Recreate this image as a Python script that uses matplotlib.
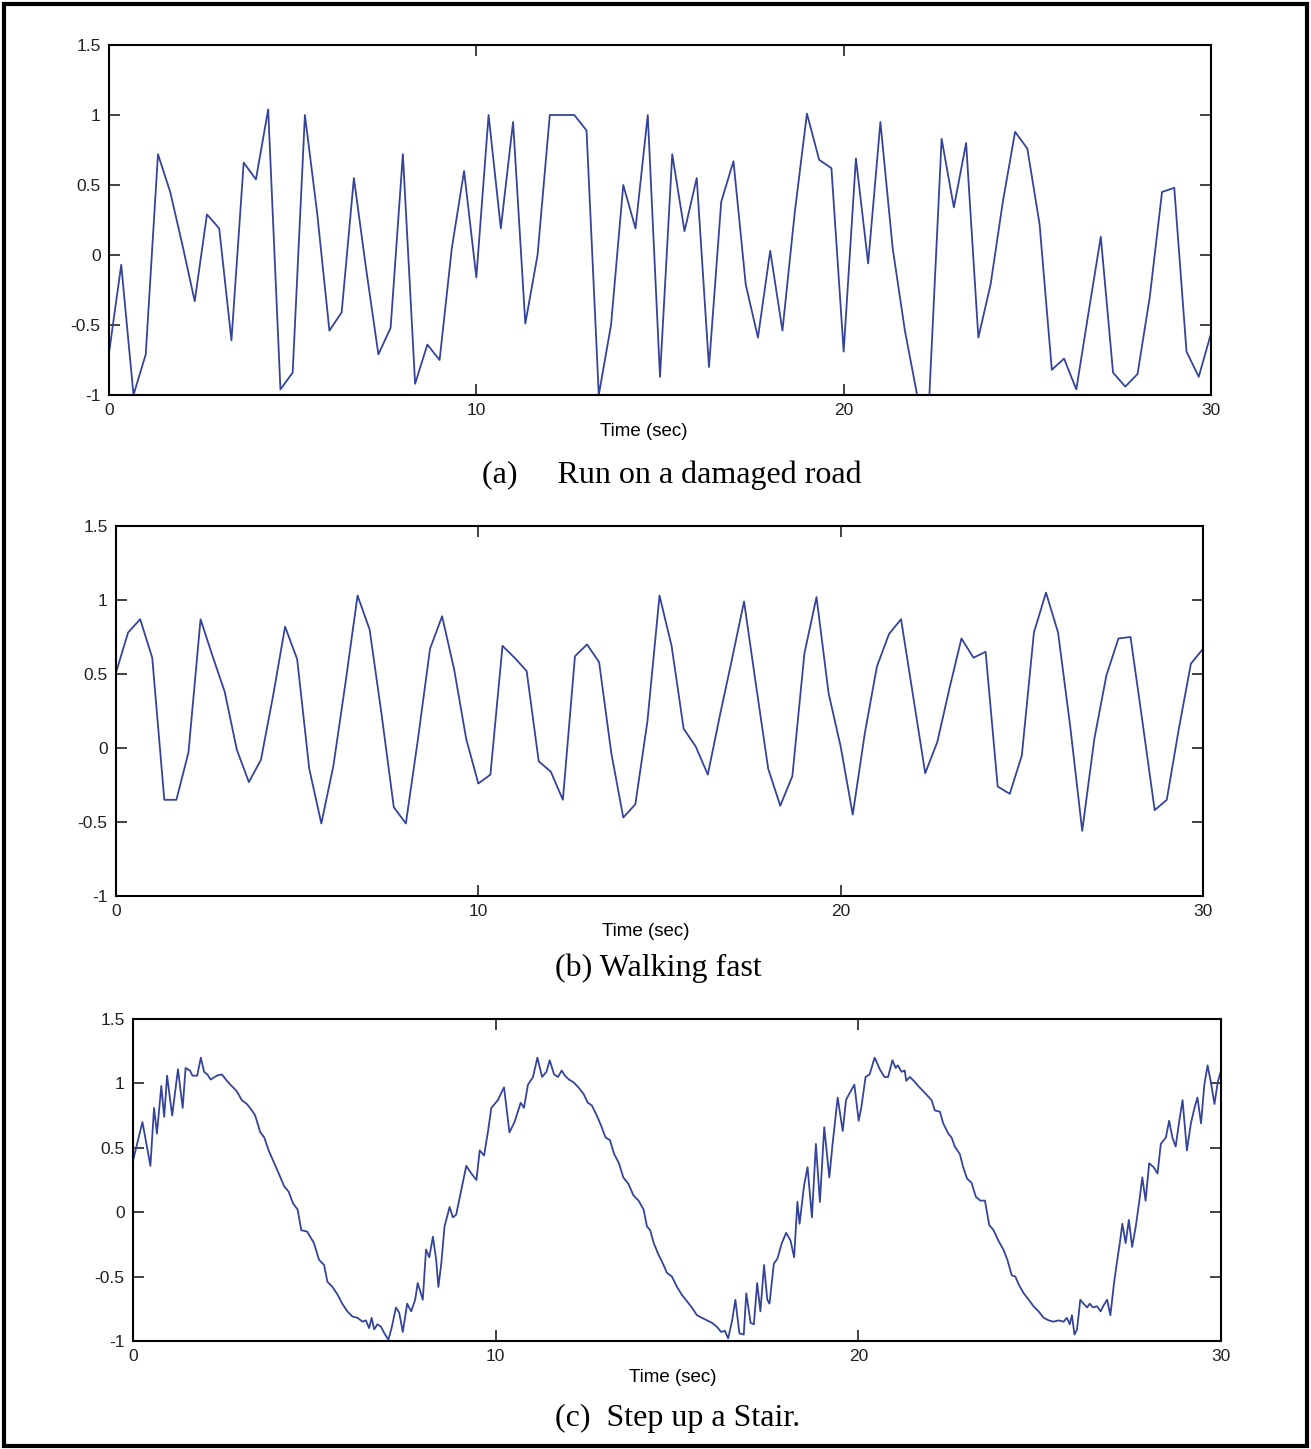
import numpy as np
import matplotlib
matplotlib.use("Agg")
import matplotlib.pyplot as plt
from matplotlib.patches import Rectangle

plt.rcParams["axes.unicode_minus"] = False

# (a) run on a damaged road, sampled every 1/3 s
t_ab = np.arange(91) / 3.0
y_road = [-0.70, -0.07, -1.00, -0.71, 0.72, 0.45, 0.07, -0.33, 0.29, 0.19,
          -0.61, 0.66, 0.54, 1.04, -0.96, -0.84, 1.00, 0.30, -0.54, -0.41,
          0.55, -0.10, -0.71, -0.52, 0.72, -0.92, -0.64, -0.75, 0.05, 0.60,
          -0.16, 1.00, 0.19, 0.95, -0.49, 0.00, 1.00, 1.00, 1.00, 0.89,
          -1.00, -0.50, 0.50, 0.19, 1.00, -0.87, 0.72, 0.17, 0.55, -0.80,
          0.38, 0.67, -0.21, -0.59, 0.03, -0.54, 0.30, 1.01, 0.68, 0.62,
          -0.69, 0.69, -0.06, 0.95, 0.05, -0.54, -1.00, -1.00, 0.83, 0.34,
          0.80, -0.59, -0.21, 0.38, 0.88, 0.76, 0.22, -0.82, -0.74, -0.96,
          -0.41, 0.13, -0.84, -0.94, -0.85, -0.30, 0.45, 0.48, -0.69, -0.87,
          -0.56]

# (b) walking fast
y_walk = [0.51, 0.78, 0.87, 0.61, -0.35, -0.35, -0.03, 0.87, 0.62, 0.38,
          -0.01, -0.23, -0.08, 0.35, 0.82, 0.60, -0.14, -0.51, -0.12, 0.44,
          1.03, 0.80, 0.22, -0.40, -0.51, 0.06, 0.67, 0.89, 0.53, 0.06,
          -0.24, -0.18, 0.69, 0.61, 0.52, -0.09, -0.16, -0.35, 0.62, 0.70,
          0.58, -0.03, -0.47, -0.38, 0.18, 1.03, 0.69, 0.13, 0.01, -0.18,
          0.22, 0.60, 0.99, 0.42, -0.14, -0.39, -0.19, 0.64, 1.02, 0.37,
          0.01, -0.45, 0.10, 0.55, 0.77, 0.87, 0.35, -0.17, 0.04, 0.40,
          0.74, 0.61, 0.65, -0.26, -0.31, -0.05, 0.78, 1.05, 0.78, 0.15,
          -0.56, 0.06, 0.49, 0.74, 0.75, 0.17, -0.42, -0.35, 0.13, 0.57,
          0.67]

# (c) step up a stair
t_stair = [0.00, 0.26, 0.48, 0.58, 0.66, 0.78, 0.86, 0.94, 1.08, 1.24,
           1.37, 1.45, 1.57, 1.64, 1.77, 1.87, 1.96, 2.05, 2.14, 2.31,
           2.45, 2.59, 2.72, 2.86, 3.00, 3.14, 3.28, 3.37, 3.51, 3.62,
           3.74, 3.88, 4.02, 4.17, 4.29, 4.41, 4.54, 4.64, 4.80, 4.99,
           5.13, 5.27, 5.36, 5.50, 5.64, 5.77, 5.91, 6.05, 6.19, 6.33,
           6.42, 6.51, 6.58, 6.65, 6.74, 6.84, 6.93, 7.04, 7.13, 7.25,
           7.34, 7.44, 7.56, 7.67, 7.78, 7.85, 7.99, 8.08, 8.17, 8.27,
           8.36, 8.42, 8.50, 8.59, 8.73, 8.82, 8.91, 9.05, 9.19, 9.33,
           9.47, 9.56, 9.68, 9.79, 9.88, 10.06, 10.23, 10.38, 10.52, 10.69,
           10.78, 10.89, 11.03, 11.15, 11.28, 11.40, 11.49, 11.61, 11.72, 11.82,
           11.91, 12.02, 12.14, 12.28, 12.42, 12.54, 12.65, 12.79, 12.91, 13.03,
           13.15, 13.27, 13.40, 13.52, 13.66, 13.80, 13.94, 14.08, 14.17, 14.26,
           14.36, 14.49, 14.63, 14.72, 14.86, 15.00, 15.13, 15.27, 15.41, 15.55,
           15.69, 15.83, 15.97, 16.10, 16.22, 16.32, 16.41, 16.52, 16.61, 16.72,
           16.84, 16.91, 17.03, 17.12, 17.21, 17.30, 17.40, 17.49, 17.55, 17.67,
           17.77, 17.89, 18.01, 18.13, 18.23, 18.32, 18.38, 18.50, 18.60, 18.72,
           18.83, 18.94, 19.06, 19.20, 19.29, 19.43, 19.57, 19.66, 19.75, 19.89,
           20.01, 20.08, 20.20, 20.31, 20.45, 20.59, 20.72, 20.82, 20.94, 21.03,
           21.09, 21.19, 21.28, 21.32, 21.42, 21.53, 21.65, 21.79, 21.92, 22.02,
           22.11, 22.25, 22.34, 22.48, 22.57, 22.66, 22.80, 22.89, 23.00, 23.12,
           23.24, 23.36, 23.49, 23.61, 23.73, 23.86, 24.00, 24.11, 24.23, 24.33,
           24.42, 24.56, 24.70, 24.83, 24.97, 25.11, 25.25, 25.38, 25.52, 25.66,
           25.75, 25.83, 25.89, 25.96, 26.03, 26.12, 26.21, 26.31, 26.38, 26.47,
           26.58, 26.68, 26.77, 26.86, 26.95, 27.05, 27.14, 27.21, 27.28, 27.37,
           27.46, 27.55, 27.65, 27.74, 27.83, 27.92, 28.02, 28.14, 28.25, 28.34,
           28.48, 28.57, 28.66, 28.75, 28.85, 28.94, 29.06, 29.17, 29.26, 29.35,
           29.45, 29.54, 29.63, 29.72, 29.82, 29.91, 30.00]
y_stair = [0.40, 0.70, 0.36, 0.81, 0.61, 0.98, 0.74, 1.06, 0.75, 1.11,
           0.81, 1.12, 1.10, 1.06, 1.06, 1.20, 1.09, 1.07, 1.03, 1.06,
           1.07, 1.02, 0.98, 0.94, 0.87, 0.84, 0.79, 0.75, 0.62, 0.58,
           0.48, 0.39, 0.30, 0.20, 0.16, 0.07, 0.02, -0.14, -0.15, -0.24,
           -0.37, -0.41, -0.54, -0.58, -0.64, -0.71, -0.77, -0.81, -0.82, -0.85,
           -0.84, -0.90, -0.82, -0.91, -0.87, -0.89, -0.94, -0.99, -0.90, -0.74,
           -0.78, -0.93, -0.71, -0.77, -0.68, -0.55, -0.68, -0.29, -0.35, -0.19,
           -0.37, -0.58, -0.40, -0.11, 0.04, -0.04, -0.02, 0.17, 0.36, 0.30,
           0.25, 0.48, 0.44, 0.63, 0.81, 0.87, 0.97, 0.62, 0.70, 0.85,
           0.81, 0.99, 1.05, 1.20, 1.05, 1.09, 1.18, 1.07, 1.05, 1.10,
           1.06, 1.03, 1.01, 0.97, 0.92, 0.85, 0.83, 0.75, 0.67, 0.58,
           0.56, 0.45, 0.38, 0.27, 0.22, 0.13, 0.09, 0.02, -0.11, -0.14,
           -0.24, -0.33, -0.41, -0.47, -0.50, -0.58, -0.64, -0.69, -0.74, -0.80,
           -0.82, -0.84, -0.86, -0.89, -0.93, -0.92, -0.98, -0.84, -0.68, -0.94,
           -0.95, -0.63, -0.86, -0.87, -0.55, -0.77, -0.41, -0.68, -0.71, -0.40,
           -0.36, -0.24, -0.16, -0.22, -0.35, 0.08, -0.09, 0.20, 0.35, -0.04,
           0.53, 0.08, 0.66, 0.27, 0.53, 0.89, 0.63, 0.87, 0.92, 0.99,
           0.71, 0.81, 1.05, 1.07, 1.20, 1.11, 1.05, 1.05, 1.18, 1.12,
           1.14, 1.09, 1.10, 1.02, 1.05, 1.02, 0.98, 0.94, 0.90, 0.87,
           0.79, 0.78, 0.69, 0.61, 0.58, 0.51, 0.45, 0.35, 0.26, 0.23,
           0.12, 0.09, 0.09, -0.10, -0.14, -0.22, -0.29, -0.37, -0.49, -0.50,
           -0.56, -0.63, -0.68, -0.73, -0.77, -0.82, -0.84, -0.85, -0.84, -0.85,
           -0.82, -0.87, -0.80, -0.95, -0.91, -0.68, -0.71, -0.74, -0.71, -0.74,
           -0.73, -0.77, -0.72, -0.68, -0.80, -0.55, -0.37, -0.24, -0.09, -0.24,
           -0.06, -0.27, -0.11, 0.07, 0.27, 0.09, 0.38, 0.35, 0.30, 0.53,
           0.58, 0.71, 0.58, 0.51, 0.71, 0.87, 0.48, 0.69, 0.80, 0.89,
           0.69, 0.99, 1.14, 1.01, 0.84, 1.01, 1.10]

yticks = [-1, -0.5, 0, 0.5, 1, 1.5]
ytick_labels = ["-1", "-0.5", "0", "0.5", "1", "1.5"]
xticks = [0, 10, 20, 30]

# data, axes box in pixels, caption, caption y/x, xlabel x (axes fraction)
panels = [
    (t_ab, y_road, [109, 45, 1211, 395], "(a)     Run on a damaged road", 475, 672, 0.485),
    (t_ab, y_walk, [116, 526, 1203, 896], "(b) Walking fast", 968, 658, 0.487),
    (t_stair, y_stair, [133, 1019, 1221, 1341], "(c)  Step up a Stair.", 1418, 678, 0.496),
]

W, H = 1311, 1449
fig = plt.figure(figsize=(W / 100, H / 100), dpi=100)
fig.patch.set_facecolor("white")

line_color = "#34449a"
sans = ["Liberation Sans", "DejaVu Sans"]
serif = ["Liberation Serif", "DejaVu Serif"]

for t, y, box, caption, cap_y, cap_x, xlab_x in panels:
    x0, y0, x1, y1 = box
    ax = fig.add_axes([x0 / W, 1 - y1 / H, (x1 - x0) / W, (y1 - y0) / H])
    ax.plot(t, y, color=line_color, lw=1.3)
    ax.set_xlim(0, 30)
    ax.set_ylim(-1, 1.5)
    ax.set_xticks(xticks)
    ax.set_yticks(yticks)
    ax.set_yticklabels(ytick_labels)
    ax.tick_params(direction="in", length=8, width=1.2, top=True, right=True,
                   labelsize=12.5, colors="#222222", pad=6)
    for lab in ax.get_xticklabels() + ax.get_yticklabels():
        lab.set_family(sans)
    for sp in ax.spines.values():
        sp.set_linewidth(1.5)
    ax.set_xlabel("Time (sec)", fontsize=13.5, family=sans, labelpad=3)
    ax.xaxis.label.set_x(xlab_x)
    fig.text(cap_x / W, 1 - cap_y / H, caption, ha="center", va="center",
             fontsize=23, family=serif)

fig.add_artist(Rectangle((0.003, 0.002), 0.994, 0.995, transform=fig.transFigure,
                         fill=False, edgecolor="black", linewidth=3))

fig.savefig("out.png", dpi=100)
